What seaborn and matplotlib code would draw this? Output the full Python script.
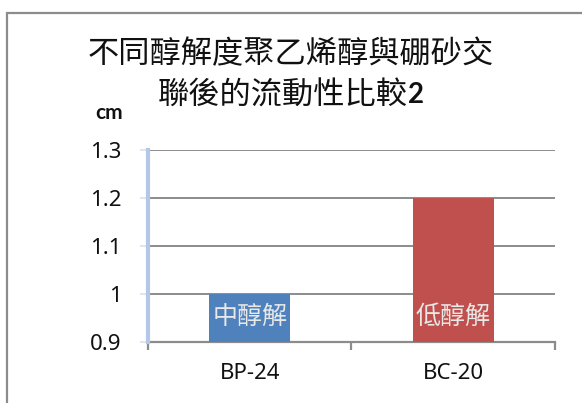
import matplotlib
matplotlib.use("Agg")
import matplotlib.pyplot as plt
import seaborn as sns
import pandas as pd
from matplotlib.patches import Rectangle

# Data
categories = ["BP-24", "BC-20"]
flow_cm = [1.0, 1.2]
bar_labels = ["中醇解", "低醇解"]
bar_colors = ["#4f81bd", "#c0504d"]
y_ticks = [0.9, 1.0, 1.1, 1.2, 1.3]
y_tick_labels = ["0.9", "1", "1.1", "1.2", "1.3"]
title_line1 = "不同醇解度聚乙烯醇與硼砂交"
title_line2 = "聯後的流動性比較"
title_suffix = "2"
unit_label = "cm"

sns.set_theme(style="white")
plt.rcParams["font.family"] = ["Noto Sans CJK TC", "DejaVu Sans"]

df = pd.DataFrame({"sample": categories, "flow": flow_cm})

fig = plt.figure(figsize=(5.82, 4.03), dpi=100)
ax = fig.add_axes([0.2543, 0.1514, 0.6993, 0.4764])

sns.barplot(data=df, x="sample", y="flow", hue="sample",
            palette=bar_colors, width=0.4, legend=False,
            saturation=1, linewidth=0, edgecolor="none", ax=ax, zorder=3)

ax.set_ylim(y_ticks[0], y_ticks[-1])
ax.set_xlim(-0.5, len(categories) - 0.5)
ax.set_yticks(y_ticks)
ax.set_yticklabels(y_tick_labels, family="Noto Sans", fontsize=16, color="#111111")
ax.set_xticks(range(len(categories)))
ax.set_xticklabels(categories, family="Noto Sans", fontsize=16, color="#111111")
ax.set_xlabel("")
ax.set_ylabel("")

# Grid lines
ax.grid(axis="y", color="#8c8c8c", linewidth=1.4, zorder=1)
ax.grid(axis="x", visible=False)
ax.set_axisbelow(True)

# Spines
for s in ["top", "right"]:
    ax.spines[s].set_visible(False)
ax.spines["left"].set_color("#b4c7e7")
ax.spines["left"].set_linewidth(3)
ax.spines["left"].set_zorder(5)
ax.spines["bottom"].set_color("#8c8c8c")
ax.spines["bottom"].set_linewidth(1.6)

ax.tick_params(axis="y", which="major", length=6, width=1.2, color="#d5e0f2",
               direction="out", pad=13, left=True)
ax.tick_params(axis="x", which="major", length=0, pad=15)
ax.set_xticks([-0.5, 0.5, 1.5], minor=True)
ax.tick_params(axis="x", which="minor", length=6, width=1.6, color="#8c8c8c",
               direction="out", bottom=True)

# Labels inside the bars
for i, lbl in enumerate(bar_labels):
    ax.text(i, 0.952, lbl, ha="center", va="center", fontsize=18,
            color="#e8e8e8", zorder=6, family=["Noto Sans CJK TC", "DejaVu Sans"])

# Title
fig.text(0.5, 0.866, title_line1, ha="center", va="center", fontsize=22.5,
         color="#111111")
t2 = fig.text(0.486, 0.762, title_line2, ha="center", va="center", fontsize=22.5,
              color="#111111")
fig.canvas.draw()
ax.annotate(title_suffix, xy=(1, 0.12), xycoords=t2, ha="left", va="bottom",
            fontsize=20, fontweight="bold", family="Lato", color="#111111",
            annotation_clip=False)

# Unit label
fig.text(0.187, 0.72, unit_label, ha="center", va="center", fontsize=15,
         fontweight="bold", family="Lato", color="#111111")

# Outer frame
fig.patches.append(Rectangle((7 / 582, -0.1), 1.2, 1.0677, transform=fig.transFigure,
                             fill=False, edgecolor="#8c8c8c", linewidth=1.6))

fig.savefig("out.png", dpi=100)
